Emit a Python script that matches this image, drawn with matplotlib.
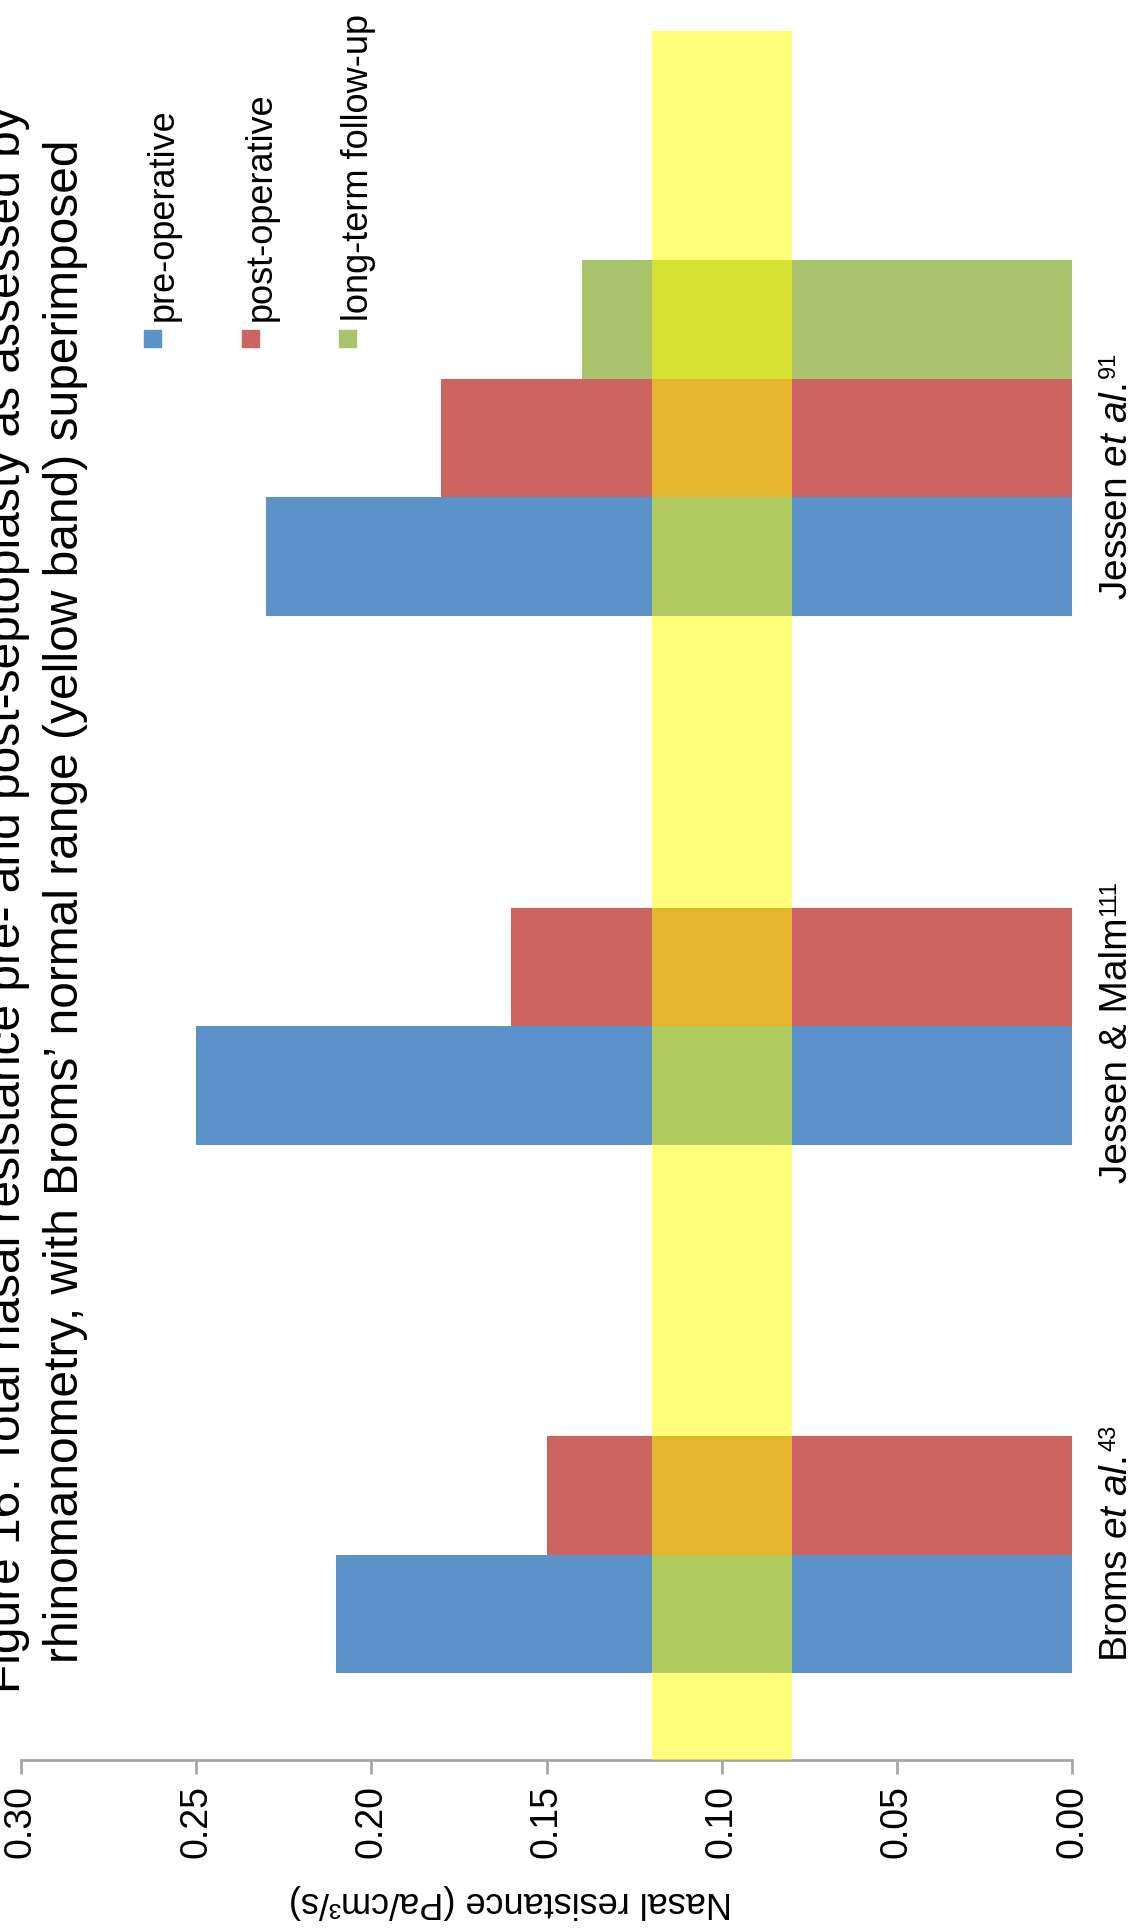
import matplotlib
matplotlib.use('Agg')
import matplotlib.pyplot as plt
import matplotlib.patches as mpatches
import matplotlib.transforms as mtransforms
import numpy as np

# ---------------- data ----------------
categories = ["Broms et al.", "Jessen & Malm", "Jessen et al."]
category_labels = [r"Broms $\mathit{et}$ $\mathit{al.}$",
                   r"Jessen & Malm",
                   r"Jessen $\mathit{et}$ $\mathit{al.}$"]
category_refs = ["43", "111", "91"]
series_names = ["pre-operative", "post-operative", "long-term follow-up"]
pre_operative = [0.21, 0.25, 0.23]
post_operative = [0.15, 0.16, 0.18]
long_term = [np.nan, np.nan, 0.14]
normal_range = [0.08, 0.12]
tick_values = [0.00, 0.05, 0.10, 0.15, 0.20, 0.25, 0.30]
title_lines = ["Figure 16. Total nasal resistance pre- and post-septoplasty as assessed by",
               "rhinomanometry, with Broms\u2019 normal range (yellow band) superimposed"]
value_label = "Nasal resistance (Pa/cm\u00b3/s)"

# ---------------- style ----------------
plt.rcParams['font.family'] = ['Liberation Sans', 'DejaVu Sans']
plt.rcParams['mathtext.fontset'] = 'custom'
plt.rcParams['mathtext.rm'] = 'Liberation Sans'
plt.rcParams['mathtext.it'] = 'Liberation Sans:italic'
plt.rcParams['mathtext.bf'] = 'Liberation Sans:bold'

colors = ['#5b93c8', '#cc6560', '#a9c46c']
W, H = 1144, 1932

def fx(px):
    return px / W

def fy(py):
    return 1 - py / H

fig = plt.figure(figsize=(W / 100, H / 100), dpi=100)
fig.patch.set_facecolor('white')

ax_left, ax_right, ax_top, ax_bottom = 21, 1072, 31, 1760
ax = fig.add_axes([fx(ax_left), fy(ax_bottom), (ax_right - ax_left) / W, (ax_bottom - ax_top) / H])
ax.set_xlim(0.30, 0.0)
ax.set_ylim(-0.5, 2.77)

ypos = np.arange(len(categories))
bw = 0.224
for i, vals in enumerate([pre_operative, post_operative, long_term]):
    ax.barh(ypos + (i - 1) * bw, vals, height=bw, left=0, color=colors[i], zorder=2)

ax.axvspan(normal_range[0], normal_range[1], color='#ffff00', alpha=0.52, lw=0, zorder=3)

for s in ['top', 'left', 'right']:
    ax.spines[s].set_visible(False)
ax.spines['bottom'].set_color('#a6a6a6')
ax.spines['bottom'].set_linewidth(2)
ax.set_yticks([])
ax.set_xticks(tick_values)
ax.set_xticklabels([f"{t:.2f}" for t in tick_values])
ax.tick_params(axis='x', direction='out', length=10, width=2, color='#a6a6a6',
               labelsize=27, labelrotation=90, pad=8)

# category labels (right side), starting points tuned to the reference
trans = mtransforms.blended_transform_factory(ax.transAxes, ax.transData)
label_start = [-0.315, -0.409, -0.307]
sup_gap = [4, 1, 4]
for i, lab in enumerate(category_labels):
    t = ax.text(1.043, ypos[i] + label_start[i], lab, transform=trans, rotation=90,
                ha='center', va='bottom', fontsize=28)
    ax.annotate(category_refs[i], xy=(0.28, 1.0), xycoords=t, rotation=90,
                xytext=(0, sup_gap[i]), textcoords='offset points',
                ha='center', va='bottom', fontsize=17)

# value axis label (upside down)
fig.text(fx(510), fy(1902), value_label, rotation=180, ha='center', va='center', fontsize=26)

# title (rotated), anchored at baseline start
fig.text(fx(20), fy(1693), title_lines[0], rotation=90, rotation_mode='anchor',
         ha='left', va='baseline', fontsize=34.5)
fig.text(fx(78), fy(1663), title_lines[1], rotation=90, rotation_mode='anchor',
         ha='left', va='baseline', fontsize=34.5)

# legend (rotated)
leg_x = [152, 250, 347]
sq = 17
for i, name in enumerate(series_names):
    fig.patches.append(mpatches.Rectangle((fx(leg_x[i] - sq / 2), fy(338 + sq / 2)), sq / W, sq / H,
                                          transform=fig.transFigure, color=colors[i], figure=fig))
    fig.text(fx(leg_x[i] + 21), fy(321), name, rotation=90, rotation_mode='anchor',
             ha='left', va='baseline', fontsize=26)

fig.savefig('out.png', dpi=100, facecolor='white')
